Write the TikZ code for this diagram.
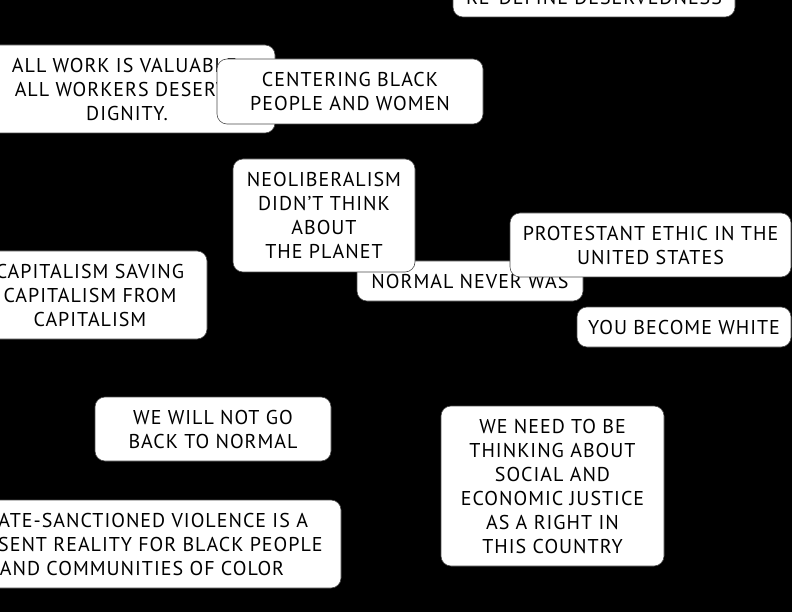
\documentclass[tikz,border=0pt]{standalone}
\usepackage{fontspec}
\setmainfont[LetterSpace=5]{PT Sans}

\begin{document}
\begin{tikzpicture}[
  x=1pt, y=-1pt,
  note/.style={draw=black!70, line width=0.6pt, fill=white, rounded corners=10pt,
               align=center, inner sep=0pt, text depth=-4pt,
               font=\fontsize{20}{24}\selectfont},
  bg/.style={fill=black}
]
  \fill[bg] (0,0) rectangle (792,612);
  \useasboundingbox (0,0) rectangle (792,612);
  \clip (0,0) rectangle (792,612);

  \node[note, minimum width=282pt, minimum height=40pt] (deserve) at (594,-3)
    {RE-DEFINE DESERVEDNESS};

  \node[note, minimum width=296pt, minimum height=88pt] (work) at (127,89)
    {ALL WORK IS VALUABLE.\\ ALL WORKERS DESERVE\\ DIGNITY.};

  \node[note, minimum width=266pt, minimum height=65pt] (center) at (350,91.5)
    {CENTERING BLACK\\ PEOPLE AND WOMEN};

  \node[note, minimum width=226pt, minimum height=40pt] (normal) at (470,281)
    {NORMAL NEVER WAS};

  \node[note, minimum width=182pt, minimum height=113pt] (neolib) at (324,215.5)
    {NEOLIBERALISM\\ DIDN’T THINK\\ ABOUT\\ THE PLANET};

  \node[note, minimum width=281pt, minimum height=64pt] (ethic) at (650.5,245)
    {PROTESTANT ETHIC IN THE\\ UNITED STATES};

  \node[note, minimum width=214pt, minimum height=40pt] (white) at (684,327)
    {YOU BECOME WHITE};

  \node[note, minimum width=234pt, minimum height=88pt] (saving) at (90,295)
    {CAPITALISM SAVING\\ CAPITALISM FROM\\ CAPITALISM};

  \node[note, minimum width=236pt, minimum height=64pt] (notgo) at (213,429)
    {WE WILL NOT GO\\ BACK TO NORMAL};

  \node[note, minimum width=223pt, minimum height=160pt] (justice) at (552.5,486)
    {WE NEED TO BE\\ THINKING ABOUT\\ SOCIAL AND\\ ECONOMIC JUSTICE\\ AS A RIGHT IN\\ THIS COUNTRY};

  \node[note, minimum width=398pt, minimum height=88pt] (violence) at (142,544)
    {STATE-SANCTIONED VIOLENCE IS A\\ PRESENT REALITY FOR BLACK PEOPLE\\ AND COMMUNITIES OF COLOR};
\end{tikzpicture}
\end{document}
